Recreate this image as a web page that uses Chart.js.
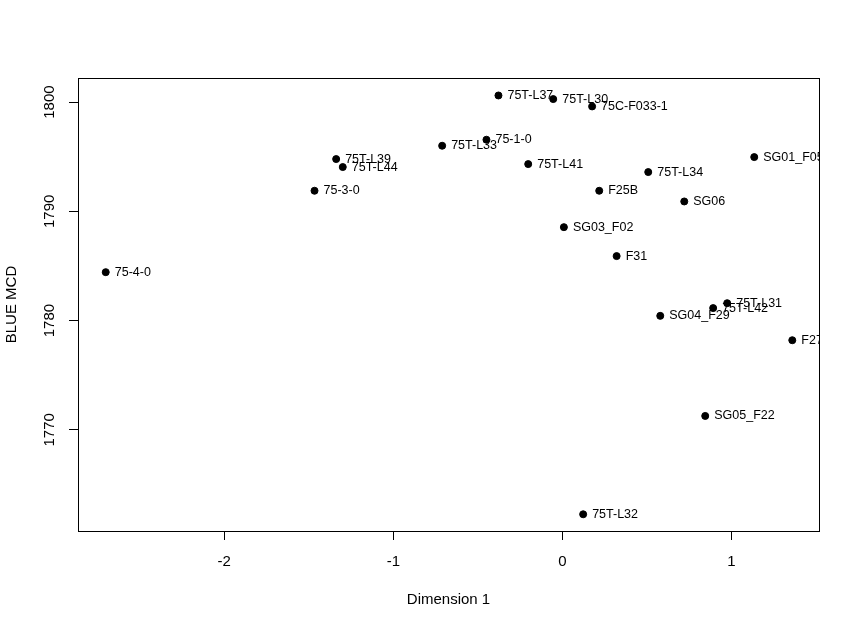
<!DOCTYPE html>
<html>
<head>
<meta charset="utf-8">
<script src="https://cdn.jsdelivr.net/npm/chart.js@4"></script>
<style>
  html, body { margin: 0; padding: 0; background: #ffffff; }
  #c { display: block; }
</style>
</head>
<body>
<canvas id="c" width="860" height="629"></canvas>
<script>
// ---- data ----
const pointLabels = [
  "75-4-0", "75T-L39", "75T-L44", "75-3-0", "75T-L33", "75-1-0",
  "75T-L37", "75T-L30", "75C-F033-1", "75T-L41", "F25B", "SG03_F02",
  "F31", "75T-L34", "SG06", "SG01_F05", "75T-L31", "75T-L42",
  "SG04_F29", "F27", "SG05_F22", "75T-L32"
];
const dimension1 = [
  -2.701, -1.338, -1.299, -1.466, -0.711, -0.449,
  -0.378, -0.054, 0.176, -0.202, 0.218, 0.009,
  0.321, 0.508, 0.721, 1.135, 0.975, 0.892,
  0.579, 1.360, 0.845, 0.123
];
const blueMcd = [
  1784.43, 1794.78, 1794.05, 1791.88, 1796.00, 1796.55,
  1800.60, 1800.27, 1799.60, 1794.32, 1791.88, 1788.55,
  1785.90, 1793.59, 1790.90, 1794.96, 1781.59, 1781.14,
  1780.43, 1778.20, 1771.27, 1762.27
];
const xTickValues = [-2, -1, 0, 1];
const yTickValues = [1770, 1780, 1790, 1800];
const xRange = [-2.865, 1.518];
const yRange = [1760.74, 1802.2];
const xTitle = "Dimension 1";
const yTitle = "BLUE MCD";

const FONT = "'Liberation Sans', Arial, sans-serif";

const points = dimension1.map((x, i) => ({ x: x, y: blueMcd[i] }));

const bgPlugin = {
  id: 'bg',
  beforeDraw(chart) {
    const ctx = chart.ctx;
    ctx.save();
    ctx.fillStyle = '#ffffff';
    ctx.fillRect(0, 0, chart.width, chart.height);
    ctx.restore();
  }
};

const boxPlugin = {
  id: 'box',
  afterDraw(chart) {
    const a = chart.chartArea;
    const ctx = chart.ctx;
    ctx.save();
    ctx.strokeStyle = '#000000';
    ctx.lineWidth = 1;
    ctx.strokeRect(Math.round(a.left) + 0.5, Math.round(a.top) + 0.5,
                   Math.round(a.right - a.left), Math.round(a.bottom - a.top));
    ctx.restore();
  }
};

const labelPlugin = {
  id: 'pointLabels',
  afterDatasetsDraw(chart) {
    const a = chart.chartArea;
    const ctx = chart.ctx;
    const meta = chart.getDatasetMeta(0);
    ctx.save();
    ctx.beginPath();
    ctx.rect(a.left, a.top, a.right - a.left, a.bottom - a.top);
    ctx.clip();
    ctx.font = '12.5px ' + FONT;
    ctx.fillStyle = '#000000';
    ctx.textAlign = 'left';
    ctx.textBaseline = 'middle';
    meta.data.forEach((el, i) => {
      ctx.fillText(pointLabels[i], el.x + 9, el.y);
    });
    ctx.restore();
  }
};

new Chart(document.getElementById('c'), {
  type: 'scatter',
  data: {
    datasets: [{
      data: points,
      backgroundColor: '#000000',
      borderColor: '#000000',
      borderWidth: 1,
      pointRadius: 3.5,
      pointHoverRadius: 3.5
    }]
  },
  options: {
    responsive: false,
    animation: false,
    devicePixelRatio: 1,
    layout: { padding: { left: 0, top: 78, right: 41, bottom: 0 } },
    plugins: {
      legend: { display: false },
      tooltip: { enabled: false },
      title: { display: false }
    },
    scales: {
      x: {
        type: 'linear',
        position: 'bottom',
        min: xRange[0],
        max: xRange[1],
        afterBuildTicks(scale) {
          scale.ticks = xTickValues.map(v => ({ value: v }));
        },
        afterFit(scale) { scale.height = 98; },
        border: { display: false },
        grid: {
          drawOnChartArea: false,
          drawTicks: true,
          tickLength: 9,
          color: '#000000',
          lineWidth: 1
        },
        ticks: {
          autoSkip: false,
          maxRotation: 0,
          minRotation: 0,
          padding: 13,
          color: '#000000',
          font: { family: FONT, size: 15 },
          callback: (v) => String(v)
        },
        title: {
          display: true,
          text: xTitle,
          color: '#000000',
          font: { family: FONT, size: 15 },
          padding: { top: 0, bottom: 20 }
        }
      },
      y: {
        type: 'linear',
        position: 'left',
        min: yRange[0],
        max: yRange[1],
        afterBuildTicks(scale) {
          scale.ticks = yTickValues.map(v => ({ value: v }));
        },
        afterFit(scale) { scale.width = 78; },
        border: { display: false },
        grid: {
          drawOnChartArea: false,
          drawTicks: true,
          tickLength: 9,
          color: '#000000',
          lineWidth: 1
        },
        ticks: {
          autoSkip: false,
          minRotation: 90,
          maxRotation: 90,
          crossAlign: 'center',
          padding: 2,
          color: '#000000',
          font: { family: FONT, size: 15 },
          callback: (v) => String(v)
        },
        title: {
          display: true,
          text: yTitle,
          color: '#000000',
          font: { family: FONT, size: 15 },
          padding: { top: 3, bottom: 0 }
        }
      }
    }
  },
  plugins: [bgPlugin, labelPlugin, boxPlugin]
});
</script>
</body>
</html>
